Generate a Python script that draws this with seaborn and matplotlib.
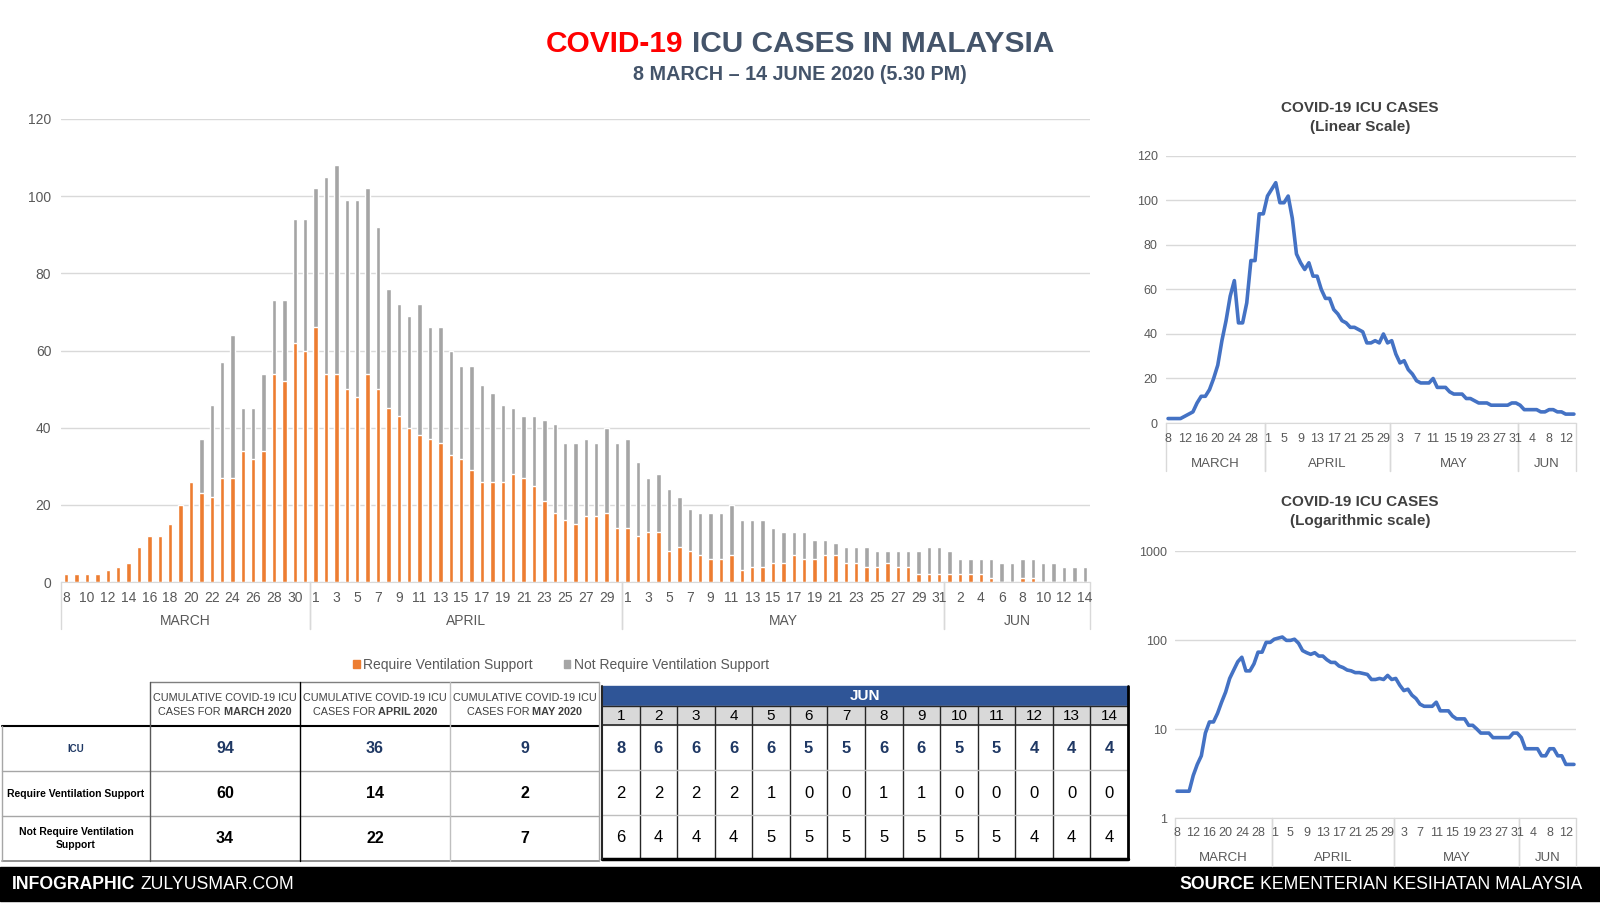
import numpy as np
import pandas as pd
import matplotlib
matplotlib.use("Agg")
import matplotlib.pyplot as plt
import matplotlib.transforms as mtransforms
from matplotlib.patches import Rectangle, Patch
from matplotlib.ticker import NullLocator
import seaborn as sns

# daily ICU cases (total) and those needing ventilation, 8 Mar - 14 Jun 2020
icu_march = [2, 2, 2, 2, 3, 4, 5, 9, 12, 12, 15, 20, 26, 37, 46, 57, 64, 45, 45, 54, 73, 73, 94, 94]
vent_march = [2, 2, 2, 2, 3, 4, 5, 9, 12, 12, 15, 20, 26, 23, 22, 27, 27, 34, 32, 34, 54, 52, 62, 60]
icu_april = [102, 105, 108, 99, 99, 102, 92, 76, 72, 69, 72, 66, 66, 60, 56, 56, 51, 49, 46, 45,
             43, 43, 42, 41, 36, 36, 37, 36, 40, 36]
vent_april = [66, 54, 54, 50, 48, 54, 50, 45, 43, 40, 38, 37, 36, 33, 32, 29, 26, 26, 26, 28,
              27, 25, 21, 18, 16, 15, 17, 17, 18, 14]
icu_may = [37, 31, 27, 28, 24, 22, 19, 18, 18, 18, 20, 16, 16, 16, 14, 13, 13, 13, 11, 11,
           10, 9, 9, 9, 8, 8, 8, 8, 8, 9, 9]
vent_may = [14, 12, 13, 13, 8, 9, 8, 7, 6, 6, 7, 3, 4, 4, 5, 5, 7, 6, 6, 7,
            7, 5, 5, 4, 4, 5, 4, 4, 2, 2, 2]
icu_june = [8, 6, 6, 6, 6, 5, 5, 6, 6, 5, 5, 4, 4, 4]
vent_june = [2, 2, 2, 2, 1, 0, 0, 1, 1, 0, 0, 0, 0, 0]

months = ["MARCH", "APRIL", "MAY", "JUN"]
first_day = [8, 1, 1, 1]
table_months = ["MARCH 2020", "APRIL 2020", "MAY 2020"]
row_names = ["ICU", "Require Ventilation Support", "Not Require Ventilation\nSupport"]
legend_names = ["Require Ventilation Support", "Not Require Ventilation Support"]

ORANGE = "#ED7D31"
GRAY = "#A5A5A5"
BLUE = "#4472C4"
NAVY = "#1F3864"
SLATE = "#44546A"
TXT = "#595959"
GRID = "#D9D9D9"

rows = []
for name, start, icu, vent in zip(months, first_day,
                                  [icu_march, icu_april, icu_may, icu_june],
                                  [vent_march, vent_april, vent_may, vent_june]):
    for k, (t, v) in enumerate(zip(icu, vent)):
        rows.append(dict(month=name, day=start + k, icu=t, vent=v))
df = pd.DataFrame(rows)
df["idx"] = np.arange(len(df))
df["not_vent"] = df["icu"] - df["vent"]
n = len(df)

sns.set_style("white")
plt.rcParams["font.family"] = ["Liberation Sans", "DejaVu Sans"]

W, H = 1600, 905
fig = plt.figure(figsize=(W / 100, H / 100), dpi=100)
fig.patch.set_facecolor("white")


def box(l, t, r, b):
    # pixel box (y down) -> figure fraction
    return [l / W, 1 - b / H, (r - l) / W, (b - t) / H]


# overlay in pixel coordinates for tables, footer, titles
ov = fig.add_axes([0, 0, 1, 1], zorder=5)
ov.set_xlim(0, W)
ov.set_ylim(H, 0)
ov.axis("off")
ov.patch.set_alpha(0)

renderer = fig.canvas.get_renderer()


def rich(x, y, parts, size, ha="center", color="black"):
    gap = size * 100 / 72 * 0.28
    texts, widths = [], []
    for s, weight, col in parts:
        t = ov.text(0, y, s, fontsize=size, fontweight=weight, color=col or color,
                    va="center", ha="left")
        texts.append(t)
        widths.append(t.get_window_extent(renderer).width)
    total = sum(widths) + gap * (len(parts) - 1)
    x0 = x - total / 2 if ha == "center" else (x - total if ha == "right" else x)
    for t, w in zip(texts, widths):
        t.set_x(x0)
        x0 += w + gap


def month_axis(ax, step, label_y, month_y, sep_bottom, size, msize):
    ticks = df["idx"].values[::step]
    ax.set_xticks(ticks, [str(d) for d in df["day"].values[::step]])
    ax.tick_params(axis="x", length=0, labelsize=size, labelcolor=TXT)
    for lab in ax.get_xticklabels():
        lab.set_visible(False)
    tr = mtransforms.blended_transform_factory(ax.transData, ov.transData)
    for t, d in zip(ticks, df["day"].values[::step]):
        ov.text(t, label_y, str(d), transform=tr, ha="center", va="center",
                fontsize=size, color=TXT)
    axis_y = ov.transData.inverted().transform(ax.transAxes.transform((0, 0)))[1]
    for name, grp in df.groupby("month", sort=False):
        lo, hi = grp["idx"].min() - 0.5, grp["idx"].max() + 0.5
        ov.text((lo + hi) / 2, month_y, name, transform=tr, ha="center", va="center",
                fontsize=msize, color=TXT)
        for xb in (lo, hi):
            ov.plot([xb, xb], [axis_y, sep_bottom], transform=tr, color=GRID, lw=1,
                    clip_on=False)


# ---- main stacked bar chart ----
ax = fig.add_axes(box(61, 119, 1090, 582))
ax.patch.set_alpha(0)
sns.barplot(data=df, x="idx", y="icu", color=GRAY, width=0.42, saturation=1,
            errorbar=None, ax=ax)
sns.barplot(data=df, x="idx", y="vent", color=ORANGE, width=0.42, saturation=1,
            errorbar=None, ax=ax)
ax.set_xlim(-0.5, n - 0.5)
ax.set_ylim(0, 120)
ax.set_yticks(range(0, 121, 20))
ax.grid(axis="y", color=GRID, lw=1)
ax.set_axisbelow(True)
ax.set_xlabel("")
ax.set_ylabel("")
for s in ["top", "right", "left"]:
    ax.spines[s].set_visible(False)
ax.spines["bottom"].set_color(GRID)
ax.tick_params(axis="y", length=0, labelsize=10, labelcolor=TXT, pad=7)
month_axis(ax, 2, 598, 621, 629, 10, 10)

ax.legend(handles=[Patch(color=ORANGE, label=legend_names[0]),
                   Patch(color=GRAY, label=legend_names[1])],
          ncol=2, frameon=False, loc="center",
          bbox_to_anchor=(561 / W, 1 - 665 / H), bbox_transform=fig.transFigure,
          handlelength=0.5, handleheight=0.5, handletextpad=0.25, columnspacing=2.2,
          fontsize=10, labelcolor=TXT)


# ---- right hand line charts ----
def line_panel(rect, log, title2, ty, label_y, month_y, sep_bottom):
    a = fig.add_axes(rect)
    a.patch.set_alpha(0)
    sns.lineplot(data=df, x="idx", y="icu", color=BLUE, lw=2.6, ax=a)
    a.set_xlim(-0.5, n - 0.5)
    if log:
        a.set_yscale("log")
        a.set_ylim(1, 1000)
        a.set_yticks([1, 10, 100, 1000], ["1", "10", "100", "1000"])
        a.yaxis.set_minor_locator(NullLocator())
    else:
        a.set_ylim(0, 120)
        a.set_yticks(range(0, 121, 20))
    a.grid(axis="y", color=GRID, lw=1)
    a.set_axisbelow(True)
    a.set_xlabel("")
    a.set_ylabel("")
    for s in ["top", "right", "left"]:
        a.spines[s].set_visible(False)
    a.spines["bottom"].set_color(GRID)
    a.tick_params(axis="y", length=0, labelsize=9, labelcolor=TXT, pad=6)
    month_axis(a, 4, label_y, month_y, sep_bottom, 9, 9.5)
    ov.text(1360, ty, "COVID-19 ICU CASES", ha="center", va="center", fontsize=11,
            fontweight="bold", color="#404040")
    ov.text(1360, ty + 19, title2, ha="center", va="center", fontsize=11,
            fontweight="bold", color="#404040")
    return a


line_panel(box(1166, 156, 1576, 423), False, "(Linear Scale)", 108, 439, 464, 471)
line_panel(box(1175, 551, 1576, 818), True, "(Logarithmic scale)", 502, 833, 858, 866)

# ---- titles ----
rich(800, 44, [("COVID-19", "bold", "#FF0000"), ("ICU CASES IN MALAYSIA", "bold", SLATE)], 21.5)
ov.text(800, 74, "8 MARCH \u2013 14 JUNE 2020 (5.30 PM)", ha="center", va="center",
        fontsize=14.2, fontweight="bold", color=SLATE)

# ---- cumulative table ----
month_end = df.groupby("month", sort=False).last()
cols = [2, 150, 300, 450, 599]
rws = [682, 726, 771, 816, 861]
for j, m in enumerate(table_months):
    cx = (cols[j + 1] + cols[j + 2]) / 2
    ov.text(cx, 698, "CUMULATIVE COVID-19 ICU", ha="center", va="center", fontsize=7.8,
            color="#404040")
    rich(cx, 712, [("CASES FOR", "normal", None), (m, "bold", None)], 7.8, color="#404040")
vals = [month_end["icu"], month_end["vent"], month_end["not_vent"]]
for i, name in enumerate(row_names):
    cy = (rws[i + 1] + rws[i + 2]) / 2
    ov.text(76, cy, name, ha="center", va="center", fontsize=7 if i == 0 else 7.5,
            fontweight="bold", color=NAVY if i == 0 else "black", linespacing=1.4)
    for j, m in enumerate(months[:3]):
        cx = (cols[j + 1] + cols[j + 2]) / 2
        ov.text(cx, cy, str(vals[i][m]), ha="center", va="center", fontsize=11.5,
                fontweight="bold", color=NAVY if i == 0 else "black")
ov.plot([cols[1], cols[4]], [rws[0], rws[0]], color="#7F7F7F", lw=1)
ov.plot([cols[0], cols[4]], [rws[1], rws[1]], color="black", lw=1.5)
for yy in rws[2:4]:
    ov.plot([cols[0], cols[4]], [yy, yy], color="#A6A6A6", lw=1)
ov.plot([cols[0], cols[4]], [rws[4], rws[4]], color="#7F7F7F", lw=1.2)
for xx, c, top in zip(cols, ["#A6A6A6", "#595959", "black", "#BFBFBF", "#A6A6A6"],
                      [rws[1], rws[0], rws[0], rws[0], rws[0]]):
    ov.plot([xx, xx], [top, rws[4]], color=c, lw=1)

# ---- June daily table ----
june = df[df["month"] == "JUN"]
xe = np.linspace(602, 1128, len(june) + 1)
ov.add_patch(Rectangle((602, 686), 1128 - 602, 20, color="#2F5597"))
ov.text(865, 696, "JUN", ha="center", va="center", fontsize=11, fontweight="bold",
        color="white")
ov.add_patch(Rectangle((602, 706), 1128 - 602, 19, color=GRID))
jrows = [725, 770, 815, 859]
for k, (_, r) in enumerate(june.iterrows()):
    cx = (xe[k] + xe[k + 1]) / 2
    ov.text(cx, 716, str(r["day"]), ha="center", va="center", fontsize=11, color="black")
    ov.text(cx, 748, str(r["icu"]), ha="center", va="center", fontsize=12,
            fontweight="bold", color=NAVY)
    ov.text(cx, 793, str(r["vent"]), ha="center", va="center", fontsize=12, color="black")
    ov.text(cx, 837, str(r["not_vent"]), ha="center", va="center", fontsize=12,
            color="black")
for xx in xe[1:-1]:
    ov.plot([xx, xx], [706, 859], color="#262626", lw=1)
ov.plot([602, 1128], [706, 706], color="#262626", lw=1)
ov.plot([602, 1128], [725, 725], color="#262626", lw=1.2)
for yy in jrows[1:3]:
    ov.plot([602, 1128], [yy, yy], color="#BFBFBF", lw=1)
ov.plot([602, 1128], [859, 859], color="black", lw=2.5)
ov.plot([602, 602], [686, 859], color="#262626", lw=1.5)
ov.plot([1128, 1128], [686, 859], color="black", lw=2)

# ---- footer ----
ov.add_patch(Rectangle((0, 867), W, 34, color="black"))
rich(12, 884, [("INFOGRAPHIC", "bold", None), ("ZULYUSMAR.COM", "normal", None)], 12.7,
     ha="left", color="white")
rich(1582, 884, [("SOURCE", "bold", None), ("KEMENTERIAN KESIHATAN MALAYSIA", "normal", None)],
     12.7, ha="right", color="white")

fig.savefig("out.png", dpi=100, facecolor="white")
